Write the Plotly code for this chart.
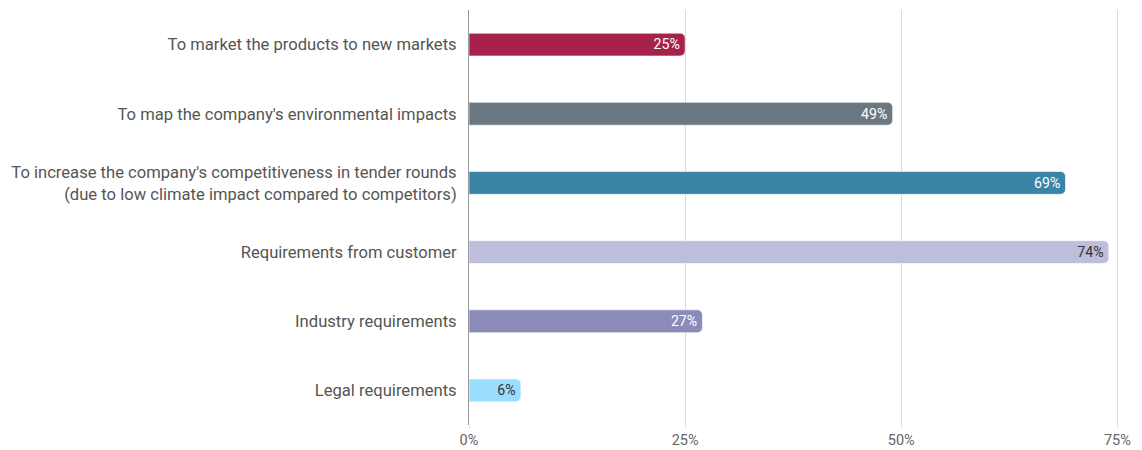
import plotly.graph_objects as go

categories = [
    "To market the products to new markets",
    "To map the company's environmental impacts",
    "To increase the company's competitiveness in tender rounds<br>(due to low climate impact compared to competitors)",
    "Requirements from customer",
    "Industry requirements",
    "Legal requirements",
]
values = [25, 49, 69, 74, 27, 6]
labels = ["25%", "49%", "69%", "74%", "27%", "6%"]
colors = ["#A6224A", "#6B7881", "#3A84A7", "#BDBDDC", "#8B8BBA", "#99DDFF"]
text_colors = ["#FFFFFF", "#FFFFFF", "#FFFFFF", "#333333", "#FFFFFF", "#333333"]
tick_vals = [0, 25, 50, 75]
tick_text = ["0%", "25%", "50%", "75%"]

# page body has an 8px default margin, so the figure is sized/offset to compensate
fig = go.Figure(go.Bar(
    x=values, y=categories, orientation="h",
    marker=dict(color=colors, line=dict(color="rgba(255,255,255,0.6)", width=1)),
    width=0.33,
    text=labels, textposition="inside", insidetextanchor="end",
    textfont=dict(family="Roboto", size=16, color=text_colors),
    hoverinfo="skip",
))
fig.update_layout(
    width=1134, height=442,
    margin=dict(l=461, r=22, t=2, b=25),
    paper_bgcolor="white", plot_bgcolor="white",
    showlegend=False, barcornerradius=5,
    font=dict(family="Roboto", size=16.6, color="#555555"),
    xaxis=dict(range=[0, 75.3], tickvals=tick_vals, ticktext=tick_text, automargin=False,
               showgrid=True, gridcolor="#D9D9D9", gridwidth=1, zeroline=False,
               ticks="outside", ticklen=2, tickcolor="#D9D9D9", ticklabelstandoff=0,
               tickfont=dict(family="Roboto", size=14.5, color="#666666"), showline=False),
    yaxis=dict(autorange="reversed", showline=True, linecolor="#999999", linewidth=1,
               ticks="", ticklabelstandoff=8, automargin=False,
               tickfont=dict(family="Roboto", size=16.6, color="#555555"), showgrid=False),
)
fig.write_html("out.html")
